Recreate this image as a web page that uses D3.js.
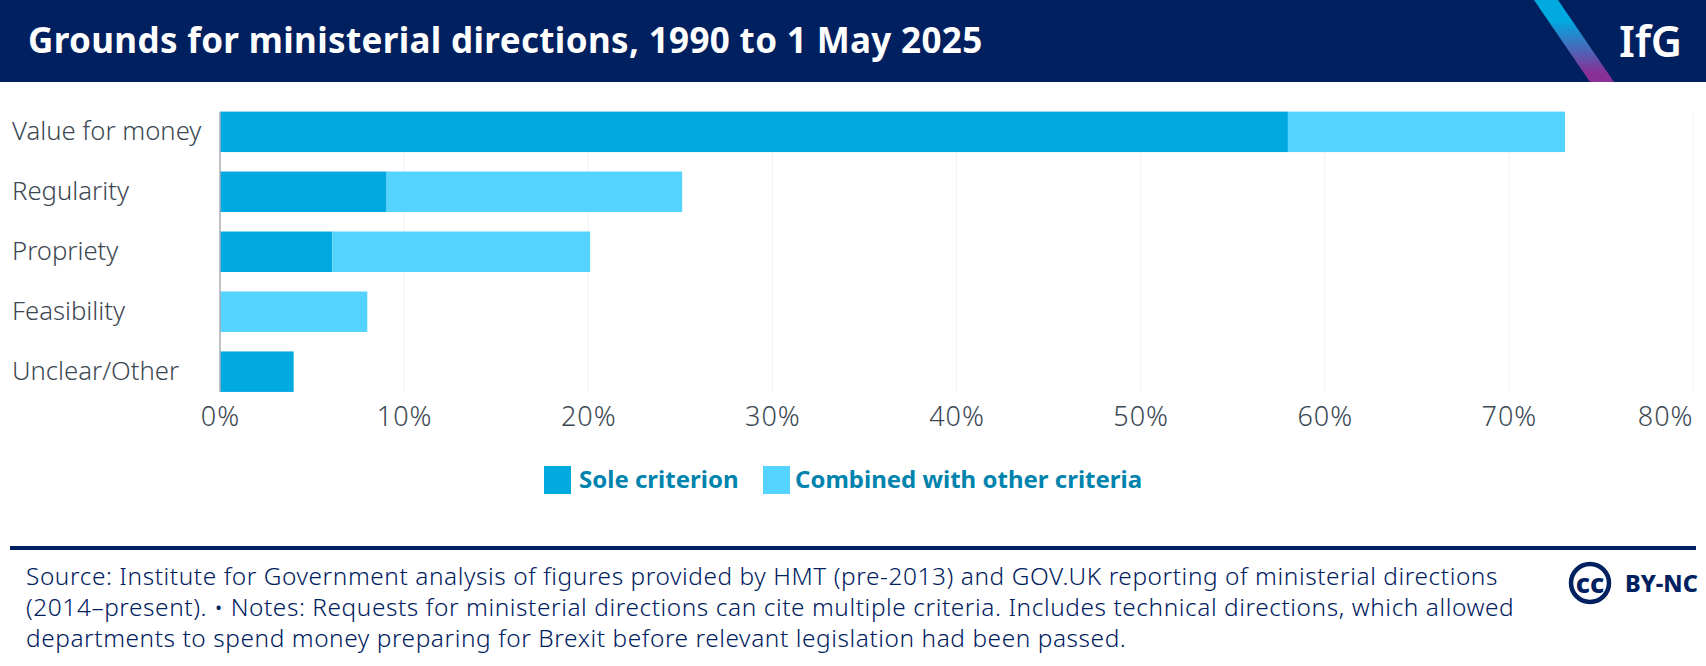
<!DOCTYPE html>
<html>
<head>
<meta charset="utf-8">
<script src="https://cdn.jsdelivr.net/npm/d3@7"></script>
<style>
  html, body { margin: 0; padding: 0; background: #fff; }
  svg { display: block; font-family: "Noto Sans", sans-serif; }
</style>
</head>
<body>
<div id="chart"></div>
<script>
var categories = ["Value for money", "Regularity", "Propriety", "Feasibility", "Unclear/Other"];
var seriesNames = ["Sole criterion", "Combined with other criteria"];
var soleCriterion = [58, 9.05, 6.1, 0, 4];
var combinedCriteria = [15.05, 16.05, 14, 8, 0];
var tickValues = [0, 10, 20, 30, 40, 50, 60, 70, 80];
var footerLines = [
  "Source: Institute for Government analysis of figures provided by HMT (pre-2013) and GOV.UK reporting of ministerial directions",
  "(2014\u2013present). \u2022 Notes: Requests for ministerial directions can cite multiple criteria. Includes technical directions, which allowed",
  "departments to spend money preparing for Brexit before relevant legislation had been passed."
];

var width = 1706, height = 666;
var navy = "#002060", dark = "#00a9e0", light = "#55d3ff", grey = "#3d4852";

var svg = d3.select("#chart").append("svg").attr("width", width).attr("height", height);

// banner
svg.append("rect").attr("width", width).attr("height", 82).attr("fill", navy);
var grad = svg.append("defs").append("linearGradient").attr("id", "stripe")
  .attr("x1", 0).attr("y1", 0).attr("x2", 0).attr("y2", 1);
grad.append("stop").attr("offset", "25%").attr("stop-color", "#00a9e0");
grad.append("stop").attr("offset", "90%").attr("stop-color", "#8a2f96");
svg.append("path").attr("d", "M1534,0 L1558,0 L1614,82 L1590,82 Z").attr("fill", "url(#stripe)");
svg.append("text").attr("x", 28).attr("y", 53).attr("fill", "#fff")
  .attr("font-size", 35).attr("font-weight", 700).attr("letter-spacing", 0.35)
  .text("Grounds for ministerial directions, 1990 to 1 May 2025");
svg.append("text").attr("x", 1619).attr("y", 57).attr("fill", "#fff")
  .attr("font-size", 43).attr("font-weight", 600).text("IfG");

// scales
var x = d3.scaleLinear().domain([0, 80]).range([220, 1693]);
var y = d3.scaleBand().domain(categories).range([102, 402]).paddingInner(19 / 60).paddingOuter(0.16);

// grid
svg.append("g").selectAll("line").data(tickValues.slice(1)).enter().append("line")
  .attr("x1", function (d) { return x(d); }).attr("x2", function (d) { return x(d); })
  .attr("y1", 112).attr("y2", 392)
  .attr("stroke", "#f2f3f4").attr("stroke-width", 1);

// bars
var rows = categories.map(function (c, i) {
  return { cat: c, sole: soleCriterion[i], combined: combinedCriteria[i] };
});
svg.append("g").selectAll("rect").data(rows).enter().append("rect")
  .attr("x", x(0)).attr("y", function (d) { return y(d.cat); })
  .attr("width", function (d) { return x(d.sole) - x(0); })
  .attr("height", y.bandwidth() - 0.5).attr("fill", dark);
svg.append("g").selectAll("rect").data(rows).enter().append("rect")
  .attr("x", function (d) { return x(d.sole); }).attr("y", function (d) { return y(d.cat); })
  .attr("width", function (d) { return x(d.sole + d.combined) - x(d.sole); })
  .attr("height", y.bandwidth() - 0.5).attr("fill", light);

// axes
var xAxis = svg.append("g").attr("transform", "translate(0,392)")
  .call(d3.axisBottom(x).tickValues(tickValues).tickSize(0).tickPadding(15).tickFormat(function (d) { return d + "%"; }));
xAxis.select(".domain").remove();
xAxis.selectAll("text").attr("font-size", 27).attr("font-weight", 300)
  .attr("letter-spacing", 1).attr("font-family", '"Noto Sans", sans-serif').attr("fill", grey);
// last label sits inside the plot edge
xAxis.selectAll("text").filter(function (d) { return d === 80; }).attr("text-anchor", "end");

svg.append("line").attr("x1", x(0)).attr("x2", x(0)).attr("y1", 112).attr("y2", 392)
  .attr("stroke", "#a9aeb3").attr("stroke-width", 1.5);

svg.append("g").selectAll("text").data(categories).enter().append("text")
  .attr("x", 12).attr("y", function (d) { return y(d) + y.bandwidth() / 2 - 1; })
  .attr("dy", "0.35em").attr("font-size", 25.7).attr("font-weight", 300).attr("fill", grey)
  .text(function (d) { return d; });

// legend
var legendX = [544, 763];
var legendText = [35, 32];
var legend = svg.append("g").selectAll("g").data(seriesNames).enter().append("g")
  .attr("transform", function (d, i) { return "translate(" + legendX[i] + ",466)"; });
legend.append("rect").attr("width", 27).attr("height", 28)
  .attr("fill", function (d, i) { return i === 0 ? dark : light; });
legend.append("text").attr("x", function (d, i) { return legendText[i]; }).attr("y", 14).attr("dy", "0.35em")
  .attr("font-size", 24).attr("font-weight", 700).attr("fill", "#0083ad")
  .text(function (d) { return d; });

// footer
svg.append("rect").attr("x", 10).attr("y", 546).attr("width", 1686).attr("height", 4).attr("fill", navy);
svg.append("g").selectAll("text").data(footerLines).enter().append("text")
  .attr("x", 26).attr("y", function (d, i) { return 585 + i * 30.8; })
  .attr("font-size", 24.4).attr("font-weight", 300).attr("letter-spacing", 0.58).attr("fill", navy)
  .text(function (d) { return d; });

// cc badge
svg.append("circle").attr("cx", 1590).attr("cy", 583).attr("r", 19)
  .attr("fill", "none").attr("stroke", navy).attr("stroke-width", 4.5);
svg.append("text").attr("x", 1590).attr("y", 593).attr("text-anchor", "middle")
  .attr("font-size", 27).attr("font-weight", 800).attr("fill", navy).text("cc");
svg.append("text").attr("x", 1625).attr("y", 592).attr("font-size", 23.5).attr("font-weight", 800)
  .attr("fill", navy).text("BY-NC");
</script>
</body>
</html>
